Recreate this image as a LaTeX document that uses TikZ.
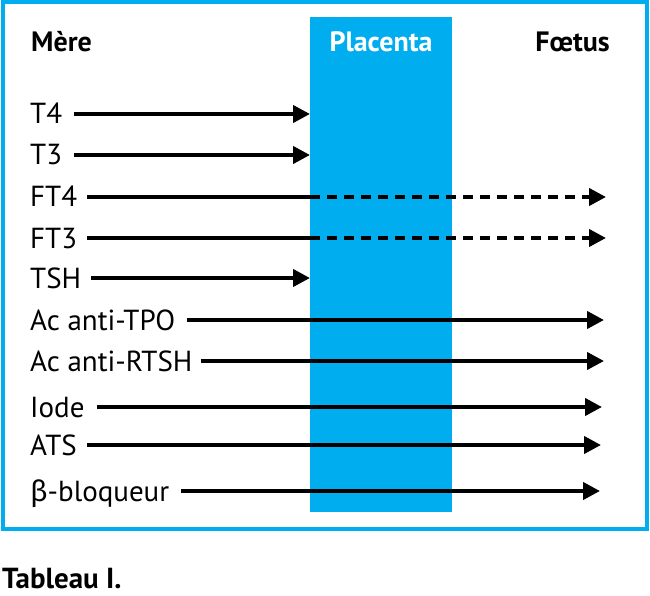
\documentclass[tikz,border=0pt]{standalone}
\usepackage{fontspec}
\setmainfont{PT Sans}
\newfontfamily\grk{Fira Sans}
\usetikzlibrary{arrows.meta}
\definecolor{pblue}{HTML}{00AEEF}
\begin{document}
\begin{tikzpicture}[x=1pt,y=-1pt,
  lbl/.style={anchor=base west, inner sep=0pt, font=\fontsize{29}{31}\selectfont},
  hdr/.style={anchor=base, inner sep=0pt, font=\fontsize{28}{30}\selectfont\bfseries},
  arr/.style={line width=4pt, -{Triangle[length=17pt,width=17pt]}},
  solidseg/.style={line width=4pt},
  dashseg/.style={line width=4pt, dash pattern=on 10pt off 7pt, -{Triangle[length=17pt,width=17pt]}}]
\useasboundingbox (0,0) rectangle (650,596);
\draw[pblue, line width=4pt] (2.5,2.5) rectangle (647,529);
\node[fill=pblue, minimum width=142pt, minimum height=495pt, inner sep=0pt, anchor=north west] (placenta) at (310,17) {};
% headers
\node[hdr, anchor=base west] (mere) at (31,52) {Mère};
\node[hdr, text=white] (plac) at (381,52) {Placenta};
\node[hdr, anchor=base east] (foetus) at (610,52) {Fœtus};
% row coordinates
\coordinate (r1) at (0,114);
\coordinate (r2) at (0,155);
\coordinate (r3) at (0,197);
\coordinate (r4) at (0,238);
\coordinate (r5) at (0,278);
\coordinate (r6) at (0,320);
\coordinate (r7) at (0,361);
\coordinate (r8) at (0,407);
\coordinate (r9) at (0,445);
\coordinate (r10) at (0,491);
% end coordinates
\coordinate (e3) at (606,197);
\coordinate (e4) at (606,238);
\coordinate (e6) at (604,320);
\coordinate (e7) at (604,361);
\coordinate (e8) at (602,407);
\coordinate (e9) at (601,445);
\coordinate (e10) at (600,491);
% labels
\node[lbl] (t4) at (30,124) {T4};
\node[lbl] (t3) at (30,165) {T3};
\node[lbl] (ft4) at (30,207) {FT4};
\node[lbl] (ft3) at (30,248) {FT3};
\node[lbl] (tsh) at (30,288) {TSH};
\node[lbl] (tpo) at (30,330) {Ac anti-TPO};
\node[lbl] (rtsh) at (30,371) {Ac anti-RTSH};
\node[lbl] (iode) at (30,417) {Iode};
\node[lbl] (ats) at (30,455) {ATS};
\node[lbl] (beta) at (30,501) {{\grk β}-bloqueur};
% arrows
\draw[arr] ([xshift=12pt]t4.east |- r1) -- (placenta.west |- r1);
\draw[arr] ([xshift=12pt]t3.east |- r2) -- (placenta.west |- r2);
\draw[solidseg] ([xshift=10pt]ft4.east |- r3) -- (placenta.west |- r3);
\draw[dashseg] (placenta.west |- r3) -- (e3);
\draw[solidseg] ([xshift=10pt]ft3.east |- r4) -- (placenta.west |- r4);
\draw[dashseg] (placenta.west |- r4) -- (e4);
\draw[arr] ([xshift=10pt]tsh.east |- r5) -- (placenta.west |- r5);
\draw[arr] ([xshift=12pt]tpo.east |- r6) -- (e6);
\draw[arr] ([xshift=8pt]rtsh.east |- r7) -- (e7);
\draw[arr] ([xshift=12pt]iode.east |- r8) -- (e8);
\draw[arr] ([xshift=10pt]ats.east |- r9) -- (e9);
\draw[arr] ([xshift=12pt]beta.east |- r10) -- (e10);
% caption
\node[anchor=base west, inner sep=0pt, font=\fontsize{29}{31}\selectfont\bfseries] (cap) at (2,588) {Tableau I.};
\end{tikzpicture}
\end{document}
